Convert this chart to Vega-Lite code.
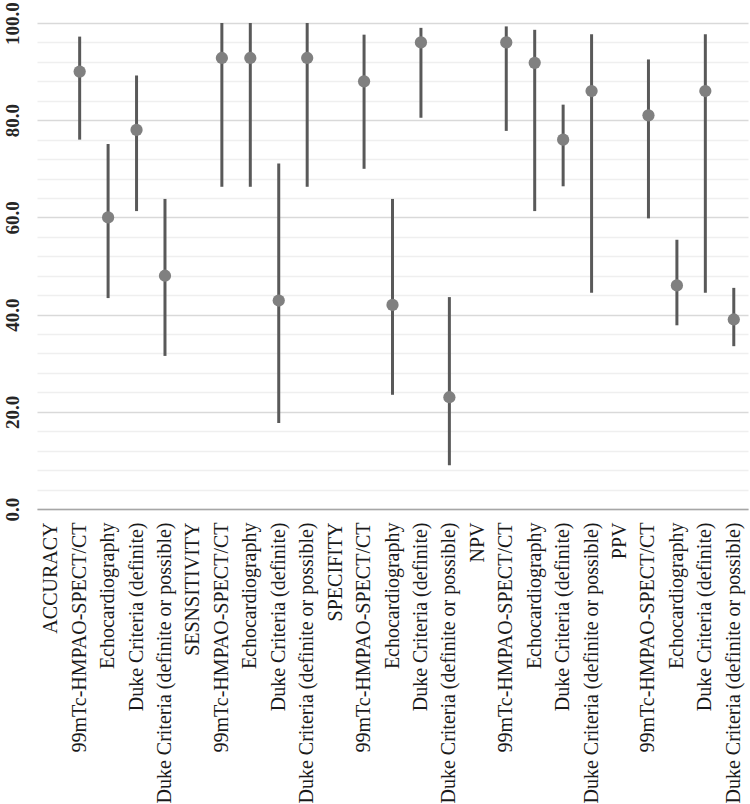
{
  "$schema": "https://vega.github.io/schema/vega-lite/v6.json",
  "width": 711,
  "height": 486,
  "autosize": "none",
  "padding": {"left": 37, "top": 23, "right": 2, "bottom": 295},
  "background": "white",
  "config": {"view": {"stroke": null}},
  "data": {
    "values": [
      {"key": "99mTc-HMPAO-SPECT/CT#a", "v": 90, "lo": 76, "hi": 97.2},
      {"key": "Echocardiography#a", "v": 60, "lo": 43.4, "hi": 75.1},
      {"key": "Duke Criteria (definite)#a", "v": 78, "lo": 61.3, "hi": 89.2},
      {"key": "Duke Criteria (definite or possible)#a", "v": 48, "lo": 31.5, "hi": 63.8},
      {"key": "99mTc-HMPAO-SPECT/CT#b", "v": 92.8, "lo": 66.3, "hi": 100},
      {"key": "Echocardiography#b", "v": 92.8, "lo": 66.3, "hi": 100},
      {"key": "Duke Criteria (definite)#b", "v": 42.9, "lo": 17.7, "hi": 71.1},
      {"key": "Duke Criteria (definite or possible)#b", "v": 92.8, "lo": 66.3, "hi": 100},
      {"key": "99mTc-HMPAO-SPECT/CT#c", "v": 88, "lo": 70, "hi": 97.6},
      {"key": "Echocardiography#c", "v": 42, "lo": 23.5, "hi": 63.8},
      {"key": "Duke Criteria (definite)#c", "v": 96, "lo": 80.5, "hi": 99},
      {"key": "Duke Criteria (definite or possible)#c", "v": 23, "lo": 9, "hi": 43.6},
      {"key": "99mTc-HMPAO-SPECT/CT#d", "v": 96, "lo": 77.8, "hi": 99.3},
      {"key": "Echocardiography#d", "v": 91.8, "lo": 61.3, "hi": 98.6},
      {"key": "Duke Criteria (definite)#d", "v": 76, "lo": 66.4, "hi": 83.2},
      {"key": "Duke Criteria (definite or possible)#d", "v": 86, "lo": 44.5, "hi": 97.7},
      {"key": "99mTc-HMPAO-SPECT/CT#e", "v": 81, "lo": 59.8, "hi": 92.5},
      {"key": "Echocardiography#e", "v": 46, "lo": 37.8, "hi": 55.4},
      {"key": "Duke Criteria (definite)#e", "v": 86, "lo": 44.5, "hi": 97.7},
      {"key": "Duke Criteria (definite or possible)#e", "v": 39, "lo": 33.5, "hi": 45.5}
    ]
  },
  "encoding": {
    "x": {
      "field": "key",
      "type": "nominal",
      "sort": null,
      "scale": {
        "domain": [
          "ACCURACY",
          "99mTc-HMPAO-SPECT/CT#a", "Echocardiography#a", "Duke Criteria (definite)#a", "Duke Criteria (definite or possible)#a",
          "SESNSITIVITY",
          "99mTc-HMPAO-SPECT/CT#b", "Echocardiography#b", "Duke Criteria (definite)#b", "Duke Criteria (definite or possible)#b",
          "SPECIFITY",
          "99mTc-HMPAO-SPECT/CT#c", "Echocardiography#c", "Duke Criteria (definite)#c", "Duke Criteria (definite or possible)#c",
          "NPV",
          "99mTc-HMPAO-SPECT/CT#d", "Echocardiography#d", "Duke Criteria (definite)#d", "Duke Criteria (definite or possible)#d",
          "PPV",
          "99mTc-HMPAO-SPECT/CT#e", "Echocardiography#e", "Duke Criteria (definite)#e", "Duke Criteria (definite or possible)#e"
        ]
      },
      "axis": {
        "title": null,
        "labelExpr": "split(datum.label, '#')[0]",
        "labelAngle": -90,
        "labelAlign": "right",
        "labelBaseline": "middle",
        "labelPadding": 13,
        "labelFont": "Liberation Serif",
        "labelFontSize": 20,
        "labelColor": "#1a1a1a",
        "labelLimit": 0,
        "labelOverlap": false,
        "ticks": false,
        "domain": true,
        "domainColor": "#a6a6a6",
        "domainWidth": 1.5,
        "grid": false
      }
    }
  },
  "layer": [
    {
      "mark": {"type": "rule", "color": "#595959", "strokeWidth": 3},
      "encoding": {
        "y": {
          "field": "lo",
          "type": "quantitative",
          "scale": {"domain": [0, 100], "nice": false},
          "axis": {
            "title": null,
            "values": [0, 4, 8, 12, 16, 20, 24, 28, 32, 36, 40, 44, 48, 52, 56, 60, 64, 68, 72, 76, 80, 84, 88, 92, 96, 100],
            "labelExpr": "datum.value % 20 === 0 ? format(datum.value, '.1f') : ''",
            "labelAngle": -90,
            "labelAlign": "center",
            "labelBaseline": "alphabetic",
            "labelPadding": 19,
            "labelFont": "Liberation Serif",
            "labelFontSize": 19,
            "labelFontWeight": "bold",
            "labelColor": "#262626",
            "labelOverlap": false,
            "labelBound": false,
            "ticks": false,
            "domain": false,
            "grid": true,
            "gridColor": {"condition": {"test": "datum.value % 20 === 0", "value": "#d9d9d9"}, "value": "#efefef"},
            "gridWidth": 1.5
          }
        },
        "y2": {"field": "hi"}
      }
    },
    {
      "mark": {"type": "point", "filled": true, "shape": "circle", "size": 150, "color": "#808080", "opacity": 1},
      "encoding": {
        "y": {
          "field": "v",
          "type": "quantitative",
          "axis": {
            "title": null,
            "values": [0, 4, 8, 12, 16, 20, 24, 28, 32, 36, 40, 44, 48, 52, 56, 60, 64, 68, 72, 76, 80, 84, 88, 92, 96, 100],
            "labelExpr": "datum.value % 20 === 0 ? format(datum.value, '.1f') : ''",
            "labelAngle": -90,
            "labelAlign": "center",
            "labelBaseline": "alphabetic",
            "labelPadding": 19,
            "labelFont": "Liberation Serif",
            "labelFontSize": 19,
            "labelFontWeight": "bold",
            "labelColor": "#262626",
            "labelOverlap": false,
            "labelBound": false,
            "ticks": false,
            "domain": false,
            "grid": true,
            "gridColor": {"condition": {"test": "datum.value % 20 === 0", "value": "#d9d9d9"}, "value": "#efefef"},
            "gridWidth": 1.5
          }
        }
      }
    }
  ]
}
